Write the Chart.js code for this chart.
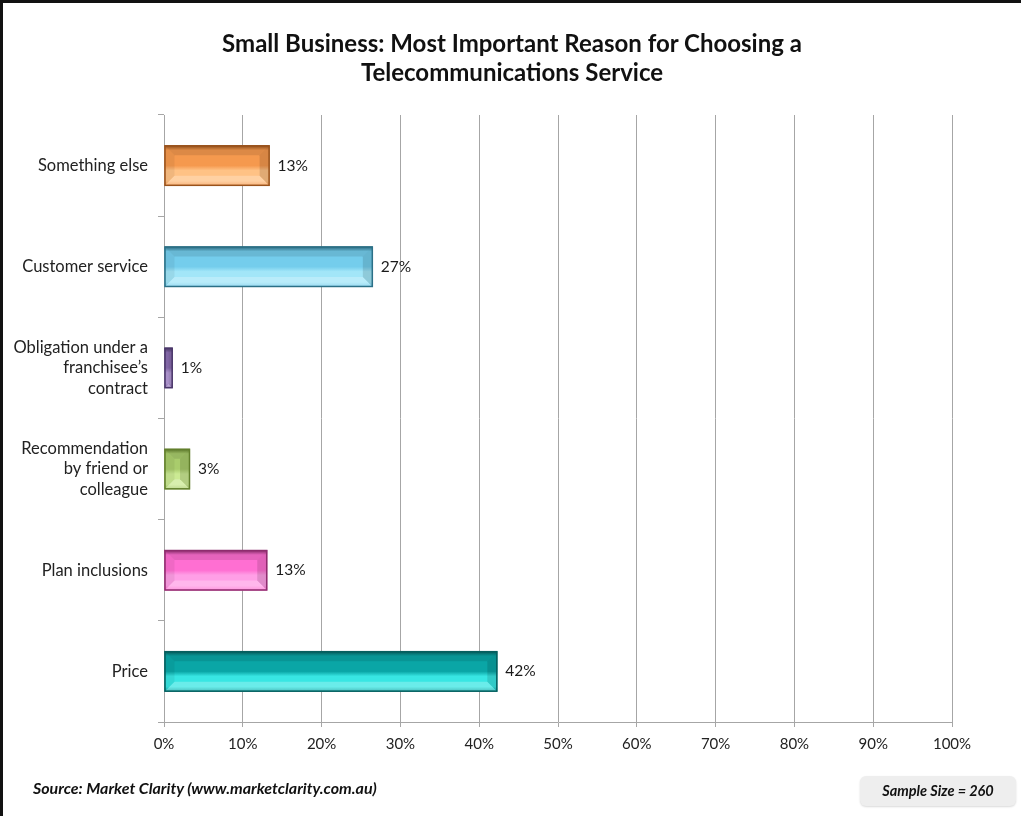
<!DOCTYPE html>
<html>
<head>
<meta charset="utf-8">
<script src="https://cdn.jsdelivr.net/npm/chart.js@4.4.1/dist/chart.umd.min.js"></script>
<style>
    html, body { margin: 0; padding: 0; background: #fff; }
    #frame {
        position: relative;
        width: 1021px;
        height: 816px;
        box-sizing: border-box;
        border-top: 3px solid #111;
        border-left: 3px solid #111;
        font-family: Lato, "Open Sans", sans-serif;
    }
    #chart-wrap { position: absolute; left: -3px; top: -3px; width: 1021px; height: 816px; }
    .title {
        position: absolute; left: 0; top: 25px; width: 1018px;
        text-align: center; font-size: 24px; font-weight: bold; line-height: 29px; color: #111;
    }
    .source {
        position: absolute; left: 30px; top: 775px;
        font-size: 16px; font-weight: bold; font-style: italic; color: #111;
    }
    .sample {
        position: absolute; left: 857px; top: 773px; width: 156px; height: 30px;
        background: #eeeeee; border-radius: 6px;
        box-shadow: 0 1px 2px rgba(0,0,0,0.15);
        font-size: 14.5px; font-weight: bold; font-style: italic; color: #111;
        line-height: 30px; text-align: center;
    }
</style>
</head>
<body>
<div id="frame">
    <div id="chart-wrap"><canvas id="reasons-chart" width="1021" height="816"></canvas></div>
    <div class="title">Small Business: Most Important Reason for Choosing a<br>Telecommunications Service</div>
    <div class="source">Source: Market Clarity (www.marketclarity.com.au)</div>
    <div class="sample">Sample Size = 260</div>
</div>
<script>
// Données
const categories = [
    'Something else',
    'Customer service',
    ['Obligation under a', 'franchisee\u2019s', 'contract'],
    ['Recommendation', 'by friend or', 'colleague'],
    'Plan inclusions',
    'Price'
];
const shares = [13.4, 26.5, 1.1, 3.3, 13.1, 42.3];
const tickValues = [0, 10, 20, 30, 40, 50, 60, 70, 80, 90, 100];

// Couleurs des barres (milieu / clair / sombre)
const midColors   = ['#F5994E', '#74CDEC', '#8A6DB0', '#A9CC6C', '#FF6FD2', '#0AA6A6'];
const lightColors = ['#FFC285', '#A2E6F8', '#B49AD6', '#CBEA93', '#FF9FE6', '#38E6E3'];
const darkColors  = ['#9A531C', '#2B7087', '#4A3769', '#617F2B', '#8E2C6E', '#055E5E'];

const FONT = 'Lato, "Open Sans", sans-serif';

/**
 * Dessine l'effet biseauté par-dessus chaque barre
 */
const bevelPlugin = {
    id: 'bevel',
    afterDatasetsDraw(chart) {
        const ctx = chart.ctx;
        const meta = chart.getDatasetMeta(0);
        meta.data.forEach((bar, i) => {
            const p = bar.getProps(['x', 'y', 'base', 'height'], true);
            const left = Math.min(p.base, p.x);
            const right = Math.max(p.base, p.x);
            const top = p.y - p.height / 2;
            const bottom = p.y + p.height / 2;
            const w = right - left;
            const h = bottom - top;
            const inset = Math.min(10, w / 2, h / 3);

            ctx.save();
            // fond en dégradé vertical
            const grad = ctx.createLinearGradient(0, top, 0, bottom);
            grad.addColorStop(0, darkColors[i]);
            grad.addColorStop(0.12, midColors[i]);
            grad.addColorStop(0.5, midColors[i]);
            grad.addColorStop(0.62, lightColors[i]);
            grad.addColorStop(0.88, lightColors[i]);
            grad.addColorStop(1, midColors[i]);
            ctx.fillStyle = grad;
            ctx.fillRect(left, top, w, h);

            // biseaux
            const poly = (pts, color) => {
                ctx.beginPath();
                ctx.moveTo(pts[0][0], pts[0][1]);
                pts.slice(1).forEach(pt => ctx.lineTo(pt[0], pt[1]));
                ctx.closePath();
                ctx.fillStyle = color;
                ctx.fill();
            };
            poly([[left, top], [right, top], [right - inset, top + inset], [left + inset, top + inset]], 'rgba(0,0,0,0.10)');
            poly([[left, bottom], [right, bottom], [right - inset, bottom - inset], [left + inset, bottom - inset]], 'rgba(255,255,255,0.25)');
            poly([[left, top], [left + inset, top + inset], [left + inset, bottom - inset], [left, bottom]], 'rgba(0,0,0,0.06)');
            poly([[right, top], [right - inset, top + inset], [right - inset, bottom - inset], [right, bottom]], 'rgba(0,0,0,0.12)');

            // bordure
            ctx.strokeStyle = darkColors[i];
            ctx.lineWidth = 1.5;
            ctx.strokeRect(left + 0.5, top + 0.5, w - 1, h - 1);
            ctx.restore();
        });
    }
};

/**
 * Étiquettes de valeur à droite des barres
 */
const valueLabelPlugin = {
    id: 'valueLabels',
    afterDatasetsDraw(chart) {
        const ctx = chart.ctx;
        const meta = chart.getDatasetMeta(0);
        ctx.save();
        ctx.font = '15.5px ' + FONT;
        ctx.fillStyle = '#1a1a1a';
        ctx.textAlign = 'left';
        ctx.textBaseline = 'middle';
        meta.data.forEach((bar, i) => {
            ctx.fillText(Math.round(shares[i]) + '%', bar.x + 8, bar.y);
        });
        ctx.restore();
    }
};

new Chart(document.getElementById('reasons-chart'), {
    type: 'bar',
    data: {
        labels: categories,
        datasets: [{
            data: shares,
            backgroundColor: midColors,
            borderColor: darkColors,
            borderWidth: 1,
            borderSkipped: false,
            categoryPercentage: 0.8,
            barPercentage: 0.5
        }]
    },
    options: {
        indexAxis: 'y',
        responsive: false,
        animation: false,
        layout: { padding: { left: 0, right: 69, top: 115, bottom: 54 } },
        plugins: {
            legend: { display: false },
            tooltip: { enabled: false },
            title: { display: false }
        },
        scales: {
            x: {
                min: 0,
                max: 100,
                afterBuildTicks: (scale) => {
                    scale.ticks = tickValues.map(v => ({ value: v }));
                },
                afterFit: (scale) => { scale.height = 40; },
                ticks: {
                    color: '#222',
                    font: { family: FONT, size: 15 },
                    padding: 8,
                    maxRotation: 0,
                    callback: (v) => v + '%'
                },
                grid: { color: '#a6a6a6', lineWidth: 1, tickLength: 5 },
                border: { color: '#a6a6a6' }
            },
            y: {
                afterFit: (scale) => { scale.width = 164; },
                ticks: {
                    color: '#222',
                    font: { family: FONT, size: 16.5, lineHeight: 1.25 },
                    padding: 10
                },
                grid: {
                    offset: true,
                    drawOnChartArea: false,
                    drawTicks: true,
                    tickLength: 6,
                    color: '#a6a6a6'
                },
                border: { color: '#a6a6a6' }
            }
        }
    },
    plugins: [bevelPlugin, valueLabelPlugin]
});
</script>
</body>
</html>
